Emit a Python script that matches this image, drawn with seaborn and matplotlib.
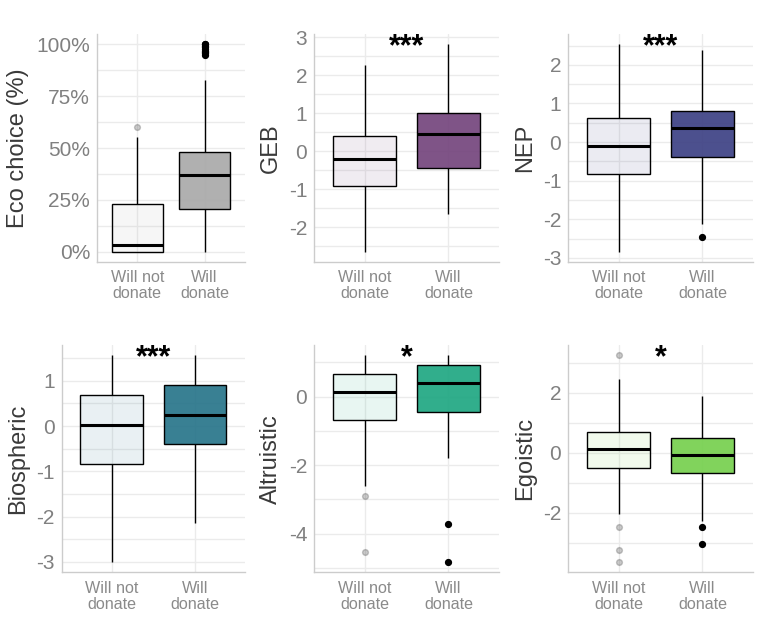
import matplotlib
matplotlib.use("Agg")
import matplotlib.pyplot as plt
from matplotlib.colors import to_rgba
from matplotlib.ticker import AutoMinorLocator, MultipleLocator, PercentFormatter
import pandas as pd
import seaborn as sns

# -------------------------------------------------
# Data
# box stats per group: [lower whisker, q1, median, q3, upper whisker]
# -------------------------------------------------

groups = ["Will not donate", "Will donate"]
tick_labels = ["Will not\ndonate", "Will\ndonate"]

eco_stats = [[0.0, 0.0, 3.4, 23.2, 55.3], [0.0, 20.7, 37.0, 47.9, 83.0]]
eco_out = [[60.0], [95.0, 96.0, 96.5, 97.0, 98.0, 98.5, 99.0, 100.0, 100.0]]

geb_stats = [[-2.64, -0.91, -0.21, 0.41, 2.28], [-1.65, -0.44, 0.44, 1.0, 2.81]]
geb_out = [[], []]

nep_stats = [[-2.84, -0.82, -0.10, 0.63, 2.53], [-2.12, -0.39, 0.36, 0.80, 2.39]]
nep_out = [[], [-2.45]]

bio_stats = [[-3.0, -0.84, 0.03, 0.68, 1.56], [-2.14, -0.40, 0.25, 0.90, 1.56]]
bio_out = [[], []]

alt_stats = [[-2.61, -0.69, 0.14, 0.67, 1.20], [-1.79, -0.44, 0.40, 0.92, 1.20]]
alt_out = [[-2.89, -4.53], [-3.71, -4.82]]

ego_stats = [[-2.04, -0.50, 0.11, 0.69, 2.45], [-2.27, -0.69, -0.08, 0.48, 1.88]]
ego_out = [[3.25, -2.48, -3.24, -3.65], [-2.48, -3.05]]

labels = ["Eco choice (%)", "GEB", "NEP", "Biospheric", "Altruistic", "Egoistic"]
stars = ["", "***", "***", "***", "*", "*"]
colors = ["#a9a9a9", "#74457d", "#3d4184", "#28758a", "#1fa782", "#76d04e"]

# -------------------------------------------------
# Util
# -------------------------------------------------

def make_sample(stats, outliers):
    # expand the read box stats into values seaborn can summarise again
    lo, q1, med, q3, hi = stats
    return [lo] + [q1] * 20 + [med] * 20 + [q3] * 20 + [hi] + list(outliers)


def build_frame(stats, outs):
    rows = []
    for g, st, out in zip(groups, stats, outs):
        for v in make_sample(st, out):
            rows.append({"group": g, "value": v})
    return pd.DataFrame(rows)


sns.set_theme(style="whitegrid")
plt.rcParams["font.family"] = ["Liberation Sans", "DejaVu Sans"]
plt.rcParams["axes.unicode_minus"] = False

fig = plt.figure(figsize=(7.61, 6.21), dpi=100)

W, H = 761, 621
boxes_px = [
    (97, 34, 245, 262),
    (314.3, 34, 498.7, 262),
    (568.3, 34, 752.7, 262),
    (61.7, 345, 245, 572.3),
    (314.3, 345, 498.7, 572.3),
    (568.3, 345, 752.7, 572.3),
]

panels = [
    (eco_stats, eco_out, 25),
    (geb_stats, geb_out, 1),
    (nep_stats, nep_out, 1),
    (bio_stats, bio_out, 1),
    (alt_stats, alt_out, 2),
    (ego_stats, ego_out, 2),
]

for i, (stats, outs, step) in enumerate(panels):
    x0, y0, x1, y1 = boxes_px[i]
    ax = fig.add_axes([x0 / W, 1 - y1 / H, (x1 - x0) / W, (y1 - y0) / H])
    df = build_frame(stats, outs)

    for j, g in enumerate(groups):
        faded = j == 0
        flier_c = (0, 0, 0, 0.2) if faded else (0, 0, 0, 1)
        sns.boxplot(
            data=df[df["group"] == g], x="group", y="value", order=groups,
            color=colors[i], saturation=1, width=0.75, whis=1.5,
            linecolor="black", linewidth=1.0, showcaps=False,
            medianprops=dict(linewidth=2.2, color="black"),
            flierprops=dict(marker="o", markersize=4.2, markerfacecolor=flier_c,
                            markeredgecolor=flier_c),
            ax=ax,
        )

    # fill transparency: light for non-donors, strong for donors
    for patch, a in zip(ax.patches, [0.1, 0.92]):
        patch.set_facecolor(to_rgba(colors[i], a))

    ax.set_xlim(-0.6, 1.6)
    ax.set_xticks([0, 1])
    ax.set_xticklabels(tick_labels, linespacing=1.08, fontsize=11.6, color="#8a8a8a")
    ax.set_xlabel("")
    ax.set_ylabel(labels[i], fontsize=17, color="#3a3a3a", labelpad=5)

    ax.yaxis.set_major_locator(MultipleLocator(step))
    ax.yaxis.set_minor_locator(AutoMinorLocator(2))
    if i == 0:
        ax.yaxis.set_major_formatter(PercentFormatter(xmax=100, decimals=0))
    ax.tick_params(axis="y", which="both", length=0, labelsize=15, labelcolor="#808080", pad=5)
    ax.tick_params(axis="x", length=0, pad=6)

    ax.set_axisbelow(True)
    ax.grid(False)
    ax.grid(True, axis="y", which="both", color="#ebebeb", linewidth=1.0)
    ax.grid(True, axis="x", which="major", color="#ebebeb", linewidth=1.0)
    for side in ["top", "right"]:
        ax.spines[side].set_visible(False)
    for side in ["left", "bottom"]:
        ax.spines[side].set_color("#cccccc")
        ax.spines[side].set_linewidth(1.0)

    if stars[i]:
        ax.text(0.5, 0.905, stars[i], transform=ax.transAxes, ha="center",
                va="baseline", fontsize=22, fontweight="bold", color="black")

fig.savefig("out.png", dpi=100, facecolor="white")
